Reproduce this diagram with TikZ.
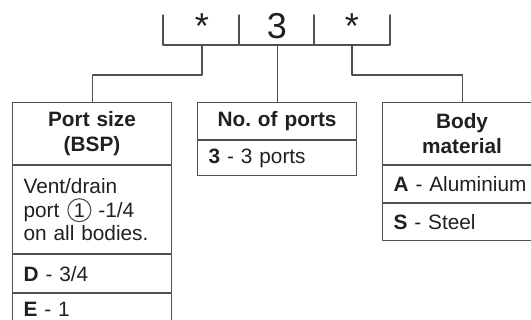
\documentclass[tikz,border=0pt]{standalone}
\usepackage{fontspec}
\setmainfont{Liberation Sans}
\frenchspacing
\definecolor{rule}{HTML}{505050}
\definecolor{ink}{HTML}{231F20}
\tikzset{
  wire/.style={draw=rule,line width=1.1pt},
  cell/.style={draw=rule,line width=1.1pt,anchor=north west,
    text width=137pt,inner xsep=11pt,inner ysep=0pt,align=left,
    text=ink,font=\fontsize{20.8}{23.5}\selectfont},
  hdr/.style={cell,align=center,font=\bfseries\fontsize{20.8}{25}\selectfont},
  code/.style={anchor=base,inner sep=0pt,text=ink,font=\fontsize{36}{36}\selectfont},
}
\newcommand{\portmark}{\tikz[baseline=(m.base)]
  \node[draw=rule,line width=1.1pt,circle,anchor=center,text width={},
    inner sep=0pt,minimum size=23pt,text=ink,
    font=\fontsize{20}{20}\selectfont] (m) {1};}

\begin{document}
\begin{tikzpicture}[x=1pt,y=-1pt,line cap=round,line join=round]
  \clip (0,0) rectangle (531,320);

  % ordering code
  \node[code] (opt1) at (202,39) {*};
  \node[code] (num) at (277,39) {3};
  \node[code] (opt2) at (352,39) {*};
  \coordinate (base) at (163,45);
  \draw[wire] (163,15) -- (base) -- (390,45) -- (390,15);
  \draw[wire] (239,15) -- (239,45);
  \draw[wire] (314,15) -- (314,45);

  % port size
  \node[hdr,minimum height=62pt] (size) at (12,102) {Port size\\(BSP)};
  \node[cell,minimum height=88pt] (vent) at (size.south west)
    {Vent/drain\\port\kern1pt\ \portmark\ -1/4\\on all bodies.};
  \node[cell,minimum height=38pt] (sizeD) at (vent.south west) {\textbf{D} - 3/4};
  \node[cell,minimum height=31pt] (sizeE) at (sizeD.south west) {\textbf{E} - 1};

  % number of ports
  \node[hdr,minimum height=37pt] (ports) at (197,102) {No. of ports};
  \node[cell,minimum height=35pt] (ports3) at (ports.south west) {\textbf{3} - 3 ports};

  % body material
  \node[hdr,minimum height=62pt] (body) at (382,102) {Body\\material};
  \node[cell,minimum height=37pt] (bodyA) at (body.south west) {\textbf{A} - Aluminium};
  \node[cell,minimum height=37pt] (bodyS) at (bodyA.south west) {\textbf{S} - Steel};

  \draw[wire] (opt1 |- base) -- ++(0,30) -| (size.north);
  \draw[wire] (ports.north |- base) -- (ports.north);
  \draw[wire] (opt2 |- base) -- ++(0,30) -| (body.north);
\end{tikzpicture}
\end{document}
